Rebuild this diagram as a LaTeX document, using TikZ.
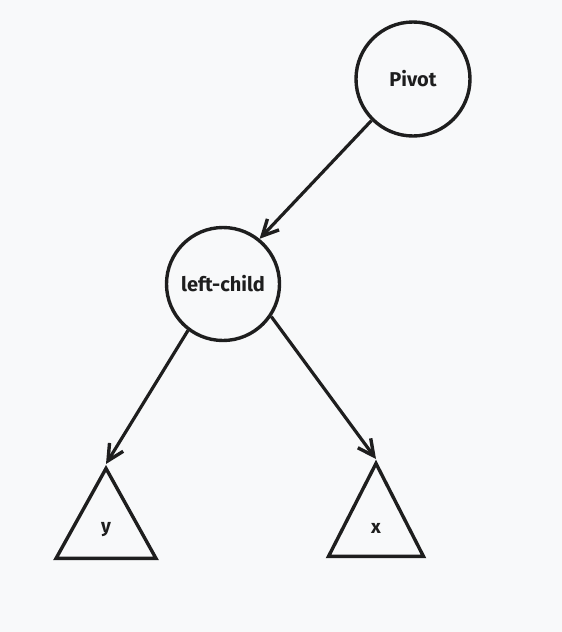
\documentclass[tikz,border=0pt]{standalone}
\usepackage{fontspec}
\setmainfont{Fira Sans}
\usetikzlibrary{
    arrows.meta,
    shapes.geometric,
    backgrounds
}
\definecolor{paper}{HTML}{F8F9FA}
\definecolor{ink}{HTML}{1E1E1E}
\tikzset{
    >={Straight Barb[length=16pt,width=16pt,line width=3.4pt]},
    % Tree nodes
    treeNode/.style={
        circle,
        draw=ink,
        line width=3.4pt,
        inner sep=0pt,
        font=\bfseries\fontsize{20}{24}\selectfont,
        text=ink
    },
    subTree/.style={
        isosceles triangle,
        isosceles triangle stretches,
        shape border rotate=90,
        draw=ink,
        line width=3.4pt,
        inner sep=0pt,
        anchor=apex,
        font=\bfseries\fontsize{19}{22}\selectfont,
        text=ink
    },
    edge/.style={
        ->,
        draw=ink,
        line width=3.2pt
    }
}

\begin{document}
\begin{tikzpicture}[x=1pt,y=-1pt]

    \fill[paper] (0,0) rectangle (562,632);
    \useasboundingbox (0,0) rectangle (562,632);

    \node[treeNode, minimum size=114pt] (pivot) at (413,79) {Pivot};
    \node[treeNode, minimum size=113pt] (leftChild) at (223,284) {left-child};
    \node[subTree, minimum width=100pt, minimum height=90pt] (treeY) at (106,464) {y};
    \node[subTree, minimum width=95pt, minimum height=93pt] (treeX) at (376,459) {x};

    \draw[edge] (pivot.225) -- (leftChild.51);
    \draw[edge] (leftChild.-127) -- (treeY.apex);
    \draw[edge] (leftChild.-34) -- (treeX.apex);

\end{tikzpicture}
\end{document}
